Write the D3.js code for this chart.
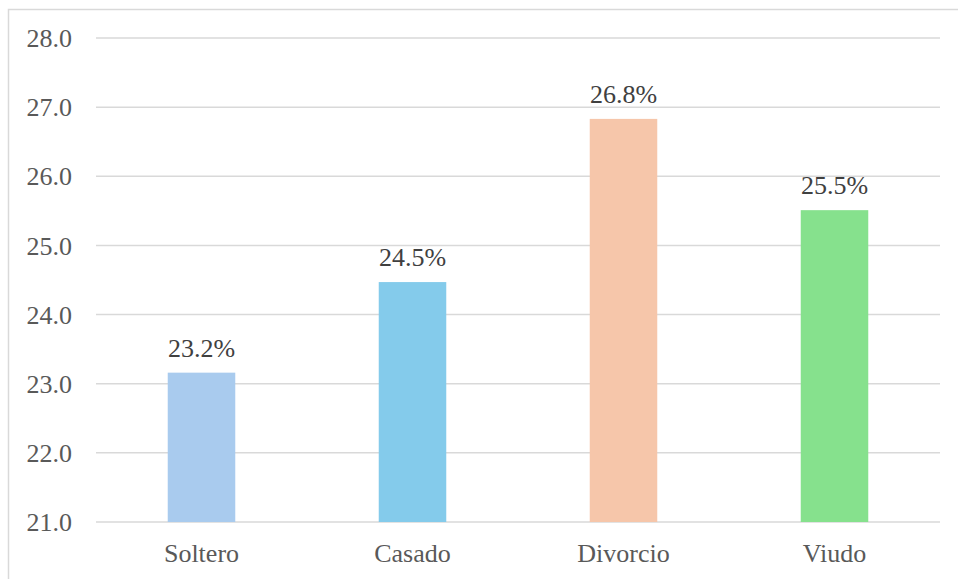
<!DOCTYPE html>
<html lang="es">
  <head>
    <meta charset="utf-8"/>
    <script src="https://d3js.org/d3.v7.min.js"></script>
    <style>
      body { margin: 0; background: #fff; }
    </style>
  </head>
  <body>
    <div id="chart"></div>
    <script>
    var categories = ["Soltero", "Casado", "Divorcio", "Viudo"];
    var values = [23.16, 24.47, 26.83, 25.51];
    var labels = ["23.2%", "24.5%", "26.8%", "25.5%"];
    var colors = ["#a9cbee", "#84cbeb", "#f6c6aa", "#86e18d"];
    var yTicks = [21, 22, 23, 24, 25, 26, 27, 28];

    var width = 958, height = 579;
    var font = "'Liberation Serif', 'Times New Roman', 'DejaVu Serif', serif";
    var svg = d3.select("#chart").append("svg")
        .attr("width", width)
        .attr("height", height)
        .style("font-family", font);

    // chart frame (runs off right and bottom edges)
    svg.append("rect")
        .attr("x", 8.5).attr("y", 9.5)
        .attr("width", 980).attr("height", 600)
        .attr("fill", "none")
        .attr("stroke", "#d9d9d9")
        .attr("stroke-width", 1.5);

    var x = d3.scaleBand().domain(categories).range([96, 940]).paddingInner(0.68).paddingOuter(0.34);
    var y = d3.scaleLinear().domain([21, 28]).range([522, 38]);

    // gridlines
    svg.append("g").selectAll("line").data(yTicks).enter().append("line")
        .attr("x1", 96).attr("x2", 940)
        .attr("y1", function(d) { return y(d); })
        .attr("y2", function(d) { return y(d); })
        .attr("stroke", "#d9d9d9")
        .attr("stroke-width", 1.5);

    // y labels
    svg.append("g").selectAll("text").data(yTicks).enter().append("text")
        .attr("x", 72)
        .attr("y", function(d) { return y(d); })
        .attr("dy", "0.35em")
        .attr("text-anchor", "end")
        .attr("font-family", font)
        .attr("font-size", 26)
        .attr("fill", "#595959")
        .text(function(d) { return d.toFixed(1); });

    // bars
    svg.append("g").selectAll("rect").data(values).enter().append("rect")
        .attr("x", function(d, i) { return x(categories[i]); })
        .attr("y", function(d) { return y(d); })
        .attr("width", x.bandwidth())
        .attr("height", function(d) { return y(21) - y(d); })
        .attr("fill", function(d, i) { return colors[i]; });

    // data labels
    svg.append("g").selectAll("text").data(values).enter().append("text")
        .attr("x", function(d, i) { return x(categories[i]) + x.bandwidth() / 2; })
        .attr("y", function(d) { return y(d) - 16; })
        .attr("text-anchor", "middle")
        .attr("font-family", font)
        .attr("font-size", 26)
        .attr("fill", "#404040")
        .text(function(d, i) { return labels[i]; });

    // category labels
    svg.append("g").selectAll("text").data(categories).enter().append("text")
        .attr("x", function(d) { return x(d) + x.bandwidth() / 2; })
        .attr("y", 562)
        .attr("text-anchor", "middle")
        .attr("font-family", font)
        .attr("font-size", 26)
        .attr("fill", "#595959")
        .text(function(d) { return d; });
    </script>
  </body>
</html>
